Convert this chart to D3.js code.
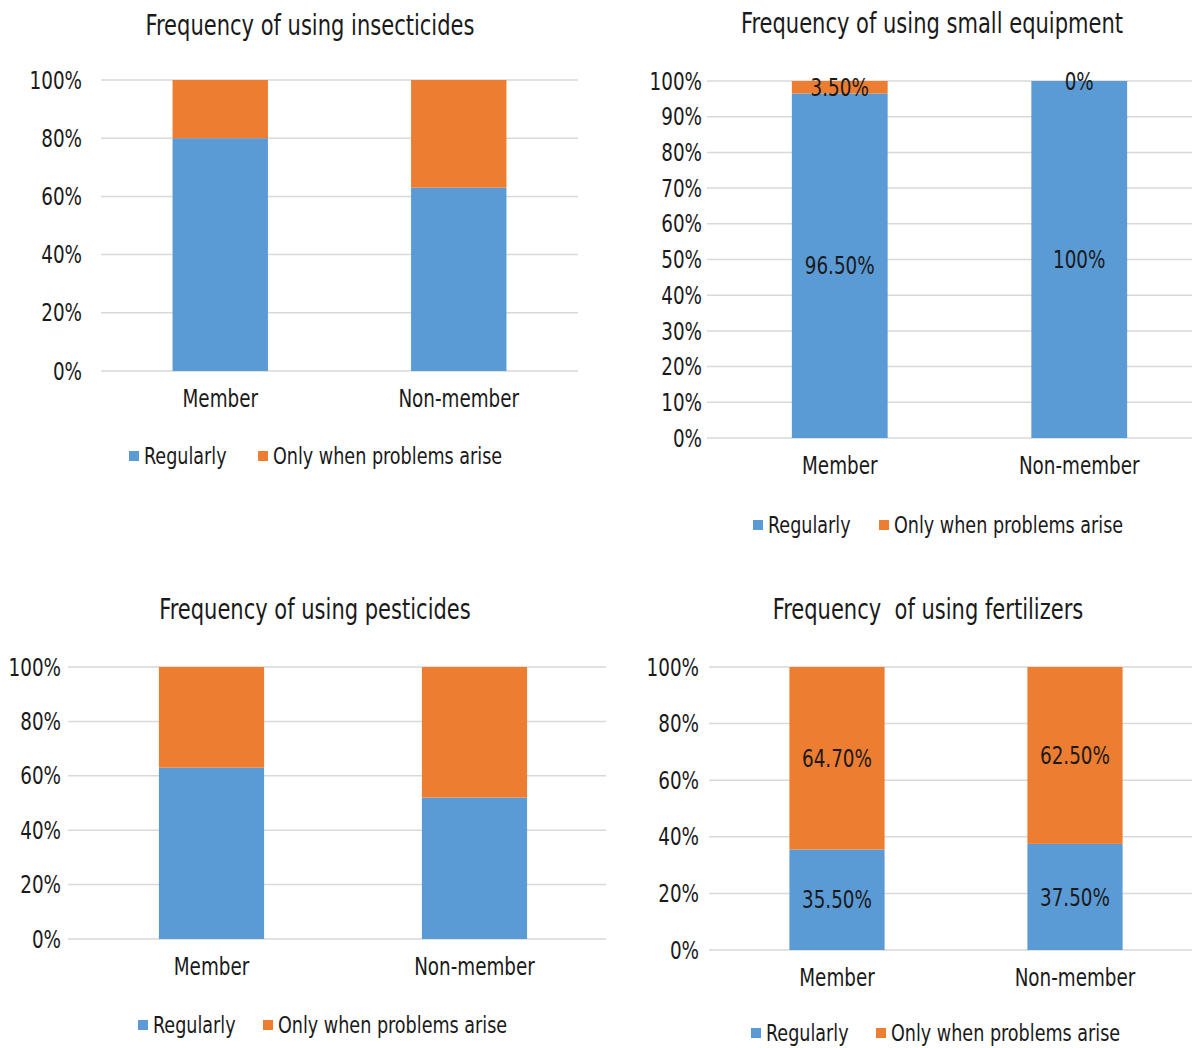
<!DOCTYPE html>
<html lang="en">
<head>
    <meta charset="UTF-8">
    <title>Frequency of use</title>
    <script src="https://d3js.org/d3.v7.min.js"></script>
    <style>
        body { margin: 0; background: #fff; }
        text { font-family: "Liberation Sans Narrow", "DejaVu Sans Condensed", sans-serif; fill: #1a1a1a; white-space: pre; }
    </style>
</head>
<body>
    <div id="chart-container"></div>
    <script>
        const categories = ["Member", "Non-member"];
        const seriesNames = ["Regularly", "Only when problems arise"];
        const colors = ["#5b9bd5", "#ed7d31"];

        const titles = [
            "Frequency of using insecticides",
            "Frequency of using small equipment",
            "Frequency of using pesticides",
            "Frequency  of using fertilizers"
        ];

        // [regularly, only when problems arise] per category
        const insecticides = [[80, 20], [63, 37]];
        const smallEquipment = [[96.5, 3.5], [100, 0]];
        const pesticides = [[63, 37], [52, 48]];
        const fertilizers = [[35.5, 64.7], [37.5, 62.5]];

        const tickSteps = [20, 10, 20, 20];
        const showLabels = [false, true, false, true];

        // layout of each panel on the page
        const panels = [
            { data: insecticides, gx0: 101, gx1: 578, bx0: 101, bx1: 578, top: 80, bottom: 371, tickX: 82, titleX: 310, titleY: 25, catY: 398, legY: 456, leg: [129, 258] },
            { data: smallEquipment, gx0: 707, gx1: 1192, bx0: 720, bx1: 1199, top: 81, bottom: 438, tickX: 702, titleX: 932, titleY: 23, catY: 465, legY: 525, leg: [753, 879] },
            { data: pesticides, gx0: 68, gx1: 606, bx0: 80, bx1: 606, top: 667, bottom: 939, tickX: 61, titleX: 315, titleY: 609, catY: 966, legY: 1025, leg: [138, 263] },
            { data: fertilizers, gx0: 709, gx1: 1192, bx0: 718, bx1: 1194, top: 667, bottom: 950, tickX: 699, titleX: 928, titleY: 609, catY: 977, legY: 1033, leg: [751, 876] }
        ];

        const SX = 0.85; // squeeze text to look like a narrow face

        const svg = d3.select("#chart-container")
            .append("svg")
            .attr("width", 1192)
            .attr("height", 1048);

        const fmt = v => Number.isInteger(v) ? v + "%" : v.toFixed(2) + "%";

        function label(g, x, y, txt, size, anchor) {
            return g.append("text")
                .attr("transform", `translate(${x},${y}) scale(${SX},1)`)
                .attr("dy", "0.36em")
                .attr("text-anchor", anchor)
                .style("font-size", size + "px")
                .text(txt);
        }

        panels.forEach(function(p, i) {
            const g = svg.append("g");

            const x = d3.scaleBand()
                .domain(categories)
                .range([p.bx0, p.bx1]);
            const barW = x.bandwidth() * 0.4;

            const y = d3.scaleLinear()
                .domain([0, 100])
                .range([p.bottom, p.top]);

            const ticks = d3.range(0, 100 + 0.1, tickSteps[i]);

            // gridlines
            g.selectAll(".grid")
                .data(ticks)
                .enter()
                .append("line")
                .attr("x1", p.gx0)
                .attr("x2", p.gx1)
                .attr("y1", d => y(d))
                .attr("y2", d => y(d))
                .attr("stroke", "#d9d9d9")
                .attr("stroke-width", 1.5);

            ticks.forEach(t => label(g, p.tickX, y(t), t + "%", 24, "end"));

            // stacked segments
            const segs = [];
            p.data.forEach(function(vals, ci) {
                let acc = 0;
                vals.forEach(function(v, si) {
                    const y0 = acc;
                    acc += v;
                    segs.push({ cat: categories[ci], s: si, v: v, y0: y0, y1: Math.min(acc, 100) });
                });
            });

            g.selectAll(".seg")
                .data(segs)
                .enter()
                .append("rect")
                .attr("x", d => x(d.cat) + (x.bandwidth() - barW) / 2)
                .attr("width", barW)
                .attr("y", d => y(d.y1))
                .attr("height", d => Math.max(0, y(d.y0) - y(d.y1)))
                .attr("fill", d => colors[d.s]);

            if (showLabels[i]) {
                segs.forEach(d => label(g, x(d.cat) + x.bandwidth() / 2, y((d.y0 + d.y1) / 2), fmt(d.v), 24, "middle"));
            }

            // category labels
            categories.forEach(c => label(g, x(c) + x.bandwidth() / 2, p.catY, c, 24, "middle"));

            label(g, p.titleX, p.titleY, titles[i], 27.5, "middle");

            // legend
            seriesNames.forEach(function(name, si) {
                g.append("rect")
                    .attr("x", p.leg[si])
                    .attr("y", p.legY - 5)
                    .attr("width", 10)
                    .attr("height", 10)
                    .attr("fill", colors[si]);
                label(g, p.leg[si] + 15, p.legY, name, 23, "start");
            });
        });
    </script>
</body>
</html>
